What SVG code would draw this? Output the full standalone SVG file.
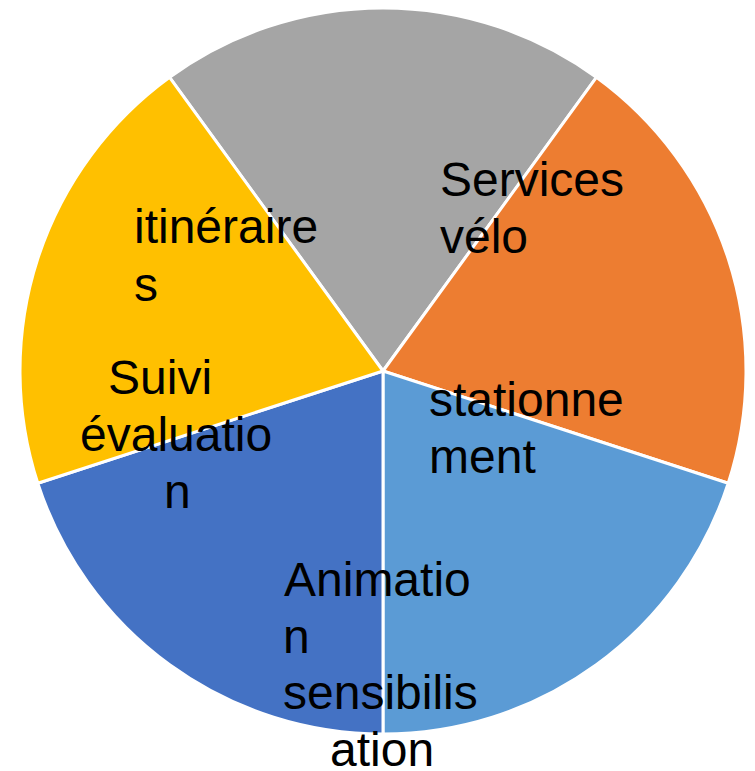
<svg xmlns="http://www.w3.org/2000/svg" width="755" height="771" viewBox="0 0 755 771">
<style>
.s{stroke:#fff;stroke-width:3;stroke-linejoin:round}
.t{font-family:"Liberation Sans",Arial,sans-serif;font-size:48px;fill:#000}
</style>
<rect width="755" height="771" fill="#fff"/>
<g id="slice-gray"><path class="s" fill="#A5A5A5" d="M383,371 L169.6,77.3 A363,363 0 0 1 596.4,77.3 Z"/></g>
<g id="slice-orange"><path class="s" fill="#ED7D31" d="M383,371 L596.4,77.3 A363,363 0 0 1 728.2,483.2 Z"/></g>
<g id="slice-lightblue"><path class="s" fill="#5B9BD5" d="M383,371 L728.2,483.2 A363,363 0 0 1 383,734 Z"/></g>
<g id="slice-darkblue"><path class="s" fill="#4472C4" d="M383,371 L383,734 A363,363 0 0 1 37.8,483.2 Z"/></g>
<g id="slice-yellow"><path class="s" fill="#FFC000" d="M383,371 L37.8,483.2 A363,363 0 0 1 169.6,77.3 Z"/></g>
<g id="labels">
<text class="t" x="440" y="196">Services</text>
<text class="t" x="440" y="253">vélo</text>
<text class="t" x="134" y="243">itinéraire</text>
<text class="t" x="134" y="301">s</text>
<text class="t" x="108" y="394">Suivi</text>
<text class="t" x="80" y="451">évaluatio</text>
<text class="t" x="164" y="508">n</text>
<text class="t" x="429" y="416">stationne</text>
<text class="t" x="429" y="473">ment</text>
<text class="t" x="284" y="596">Animatio</text>
<text class="t" x="283" y="653">n</text>
<text class="t" x="283" y="709">sensibilis</text>
<text class="t" x="330" y="766">ation</text>
</g>
</svg>
